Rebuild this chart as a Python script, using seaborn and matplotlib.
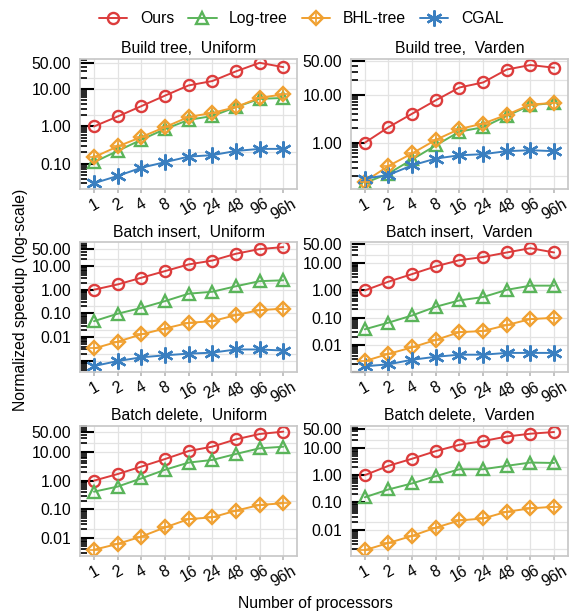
import numpy as np
import pandas as pd
import matplotlib
matplotlib.use("Agg")
import matplotlib.pyplot as plt
import seaborn as sns
from matplotlib.lines import Line2D
from matplotlib.legend_handler import HandlerTuple
from matplotlib.ticker import FixedLocator, FuncFormatter, LogLocator, NullFormatter

# --- Data ---
procs = ["1", "2", "4", "8", "16", "24", "48", "96", "96h"]
methods = ["Ours", "Log-tree", "BHL-tree", "CGAL"]

# Build tree, Uniform
build_uni_ours = [1.0, 1.85, 3.5, 6.7, 12.6, 16.5, 30, 51, 39]
build_uni_log = [0.11, 0.22, 0.44, 0.85, 1.5, 1.9, 3.3, 5.5, 5.8]
build_uni_bhl = [0.15, 0.29, 0.52, 0.96, 1.8, 2.3, 3.3, 5.9, 7.2]
build_uni_cgal = [0.030, 0.047, 0.078, 0.11, 0.155, 0.17, 0.22, 0.25, 0.25]

# Build tree, Varden
build_var_ours = [1.0, 2.1, 4.0, 7.6, 14, 17.8, 33, 41, 36]
build_var_log = [0.146, 0.23, 0.45, 0.88, 1.7, 2.1, 3.6, 6.0, 6.7]
build_var_bhl = [0.157, 0.33, 0.60, 1.15, 1.93, 2.5, 3.8, 6.2, 6.7]
build_var_cgal = [0.18, 0.215, 0.34, 0.47, 0.55, 0.58, 0.67, 0.70, 0.67]

# Batch insert, Uniform
ins_uni_ours = [1.0, 1.67, 3.2, 6.1, 11.7, 17, 33, 52, 63]
ins_uni_log = [0.047, 0.097, 0.17, 0.33, 0.68, 0.82, 1.4, 2.3, 2.5]
ins_uni_bhl = [0.0033, 0.0064, 0.013, 0.023, 0.040, 0.047, 0.085, 0.138, 0.158]
ins_uni_cgal = [0.0006, 0.00097, 0.0014, 0.0017, 0.0020, 0.0022, 0.0030, 0.0030, 0.0027]

# Batch insert, Varden
ins_var_ours = [1.0, 2.1, 4.0, 7.7, 13, 17, 25, 36, 25]
ins_var_log = [0.037, 0.065, 0.12, 0.25, 0.43, 0.57, 1.05, 1.5, 1.5]
ins_var_bhl = [0.0025, 0.0046, 0.008, 0.015, 0.029, 0.032, 0.053, 0.088, 0.098]
ins_var_cgal = [0.0016, 0.0019, 0.0028, 0.0036, 0.0043, 0.0043, 0.005, 0.005, 0.005]

# Batch delete, Uniform (no CGAL)
del_uni_ours = [1.0, 1.7, 3.1, 5.7, 10.9, 15.5, 28, 43, 52]
del_uni_log = [0.41, 0.62, 1.2, 2.4, 4.3, 5.3, 8.6, 13.6, 15.4]
del_uni_bhl = [0.0038, 0.0061, 0.011, 0.023, 0.045, 0.052, 0.089, 0.141, 0.162]

# Batch delete, Varden (no CGAL)
del_var_ours = [1.0, 2.2, 4.0, 7.6, 13, 17.7, 26, 33, 38]
del_var_log = [0.155, 0.30, 0.50, 0.92, 1.65, 1.65, 2.2, 2.9, 2.8]
del_var_bhl = [0.0018, 0.0033, 0.006, 0.012, 0.022, 0.026, 0.046, 0.061, 0.070]

colors = {"Ours": "#dc3c3c", "Log-tree": "#5ab45a", "BHL-tree": "#f0a030", "CGAL": "#3a7fc0"}
markers = {"Ours": "o", "Log-tree": "^", "BHL-tree": "D", "CGAL": (6, 2, 0)}
msizes = {"Ours": 8, "Log-tree": 9, "BHL-tree": 7.5, "CGAL": 11.5}

panels = [
    ("Build tree,  Uniform", [build_uni_ours, build_uni_log, build_uni_bhl, build_uni_cgal], (0.021, 65)),
    ("Build tree,  Varden", [build_var_ours, build_var_log, build_var_bhl, build_var_cgal], (0.11, 55)),
    ("Batch insert,  Uniform", [ins_uni_ours, ins_uni_log, ins_uni_bhl, ins_uni_cgal], (0.00032, 100)),
    ("Batch insert,  Varden", [ins_var_ours, ins_var_log, ins_var_bhl, ins_var_cgal], (0.00095, 59)),
    ("Batch delete,  Uniform", [del_uni_ours, del_uni_log, del_uni_bhl], (0.0023, 83)),
    ("Batch delete,  Varden", [del_var_ours, del_var_log, del_var_bhl], (0.0011, 64)),
]


def draw_panel(ax, title, series, ylim):
    rows = []
    for m, vals in zip(methods, series):
        for p, v in zip(procs, vals):
            rows.append({"procs": p, "speedup": v, "method": m})
    df = pd.DataFrame(rows)
    used = [m for m in methods if m in df["method"].unique()]

    # seaborn can't mix filled and line-art markers -> placeholder for CGAL, fixed below
    sns_markers = {m: ("X" if m == "CGAL" else markers[m]) for m in used}
    sns.lineplot(data=df, x="procs", y="speedup", hue="method", style="method",
                 hue_order=used, style_order=used,
                 palette={m: colors[m] for m in used},
                 markers=sns_markers, dashes=False,
                 linewidth=1.4, markerfacecolor="none", legend=False, ax=ax)
    # seaborn defaults marker edges to white -> recolor them, set sizes
    for line, m in zip(ax.lines, used):
        line.set_marker(markers[m])
        line.set_markeredgecolor(line.get_color())
        line.set_markeredgewidth(1.7)
        line.set_markersize(msizes[m])

    # plus sign inside the BHL-tree diamonds
    bhl = df[df["method"] == "BHL-tree"]
    ax.plot(bhl["procs"], bhl["speedup"], ls="none", marker="+", ms=7.5,
            mew=1.2, color=colors["BHL-tree"])

    ax.set_yscale("log")
    ax.set_ylim(ylim)
    ax.set_xlim(-0.6, 8.6)
    ax.yaxis.set_major_locator(FixedLocator([1e-4, 1e-3, 1e-2, 1e-1, 1, 10, 50]))
    ax.yaxis.set_major_formatter(FuncFormatter(lambda v, _: f"{v:.2f}" if v >= 0.01 else ""))
    ax.yaxis.set_minor_locator(LogLocator(base=10, subs=np.arange(2, 10), numticks=30))
    ax.yaxis.set_minor_formatter(NullFormatter())

    # light extra gridlines at 2 x 10^k
    for k in range(-4, 2):
        ax.axhline(2 * 10.0 ** k, color="#e3e3e3", lw=0.9, zorder=0)

    ax.grid(which="major", color="#e3e3e3", lw=0.9)
    ax.set_axisbelow(True)
    ax.tick_params(axis="y", which="major", left=True, direction="in", length=10,
                   width=1.5, color="black", labelcolor="black", pad=6, labelsize=11.3)
    ax.tick_params(axis="y", which="minor", left=True, direction="in", length=5,
                   width=1.2, color="black")
    ax.tick_params(axis="x", bottom=True, direction="out", length=3, color="#bbbbbb",
                   labelcolor="black", pad=2, labelsize=11.3)
    for lab in ax.get_xticklabels():
        lab.set_rotation(30)
        lab.set_ha("center")
    for sp in ax.spines.values():
        sp.set_color("#c8c8c8")
    ax.set_title(title, fontsize=11.3, pad=4, color="black")
    ax.set_xlabel("")
    ax.set_ylabel("")


sns.set_theme(style="whitegrid")
plt.rcParams["font.family"] = ["Liberation Sans", "DejaVu Sans"]
plt.rcParams["text.color"] = "black"

fig, axes = plt.subplots(3, 2, figsize=(5.74, 6.13), dpi=100)
fig.subplots_adjust(left=0.139, right=0.990, top=0.904, bottom=0.093,
                    wspace=0.244, hspace=0.41)

for ax, (title, series, ylim) in zip(axes.flat, panels):
    draw_panel(ax, title, series, ylim)

# --- Legend ---
handles = []
for m in methods:
    h = Line2D([], [], color=colors[m], marker=markers[m], mfc="none", mec=colors[m],
               mew=1.7, ms=msizes[m], lw=1.4)
    if m == "BHL-tree":
        plus = Line2D([], [], ls="none", marker="+", ms=7.5, mew=1.2, color=colors[m])
        h = (h, plus)
    handles.append(h)
fig.legend(handles, methods, loc="upper center", bbox_to_anchor=(0.525, 1.005), ncol=4,
           frameon=False, fontsize=11.3, handlelength=1.8, handletextpad=0.8,
           columnspacing=0.9, handler_map={tuple: HandlerTuple(ndivide=1)})

fig.text(0.035, 0.51, "Normalized speedup (log-scale)", rotation=90,
         ha="center", va="center", fontsize=11.3)
fig.text(0.549, 0.016, "Number of processors", ha="center", va="center", fontsize=11.3)

fig.savefig("out.png", dpi=100)
plt.close(fig)
